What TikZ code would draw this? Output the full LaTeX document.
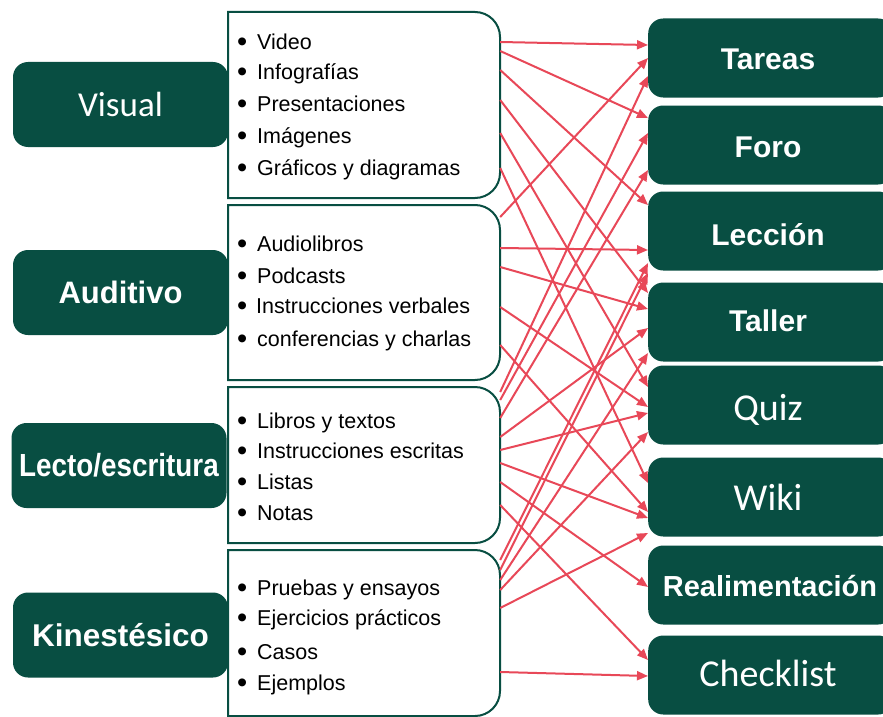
\documentclass[tikz,border=0pt]{standalone}
\usepackage{fontspec}
\usepackage{graphicx}
\setmainfont{Liberation Sans}
\newfontfamily\calfont{Carlito}
\usetikzlibrary{arrows.meta}
\definecolor{dg}{RGB}{8,78,66}
\definecolor{ar}{RGB}{232,72,88}
\newcommand\listframe[2]{\draw[frame] (228,#1) -- (475,#1) arc[start angle=-90,end angle=0,radius=25] -- (500,#2-25) arc[start angle=0,end angle=90,radius=25] -- (228,#2) -- cycle;}
\begin{document}
\begin{tikzpicture}[x=1pt,y=-1pt,
  item/.style={anchor=base west, inner sep=0pt, font=\fontsize{21.5}{26}\selectfont},
  lbox/.style={fill=dg, rounded corners=15pt, text=white, minimum width=215pt, minimum height=85pt, inner sep=0pt},
  rbox/.style={fill=dg, rounded corners=15pt, text=white, minimum width=245pt, minimum height=79pt, inner sep=0pt, anchor=west},
  rtxt/.style={anchor=center, text=white, inner sep=0pt},
  arr/.style={draw=ar, line width=2pt, -{Triangle[length=11pt,width=9pt]}},
  frame/.style={draw=dg, line width=2pt, fill=white},
  ghost/.style={inner sep=0pt, minimum width=272pt}]
\fill[white] (0,0) rectangle (883,717);
\useasboundingbox (0,0) rectangle (883,717);

% list frames
\listframe{12}{198}
\listframe{205}{380}
\listframe{387}{543}
\listframe{550}{716}
\node[ghost, minimum height=186pt] (L1) at (364,105) {};
\node[ghost, minimum height=175pt] (L2) at (364,292.5) {};
\node[ghost, minimum height=156pt] (L3) at (364,465) {};
\node[ghost, minimum height=166pt] (L4) at (364,633) {};

% items
\newcommand\bulglyph{\raisebox{-2.6pt}{\scalebox{1.35}{\textbullet}}}
\newcommand\bul{\makebox[20pt][l]{\bulglyph}}
\node[item] (v1) at (237,49) {\bul Video};
\node[item] (v2) at (237,79) {\bul Infografías};
\node[item] (v3) at (237,111) {\bul Presentaciones};
\node[item] (v4) at (237,143) {\bul Imágenes};
\node[item] (v5) at (237,175) {\bul Gráficos y diagramas};
\node[item] (a1) at (237,251) {\bul Audiolibros};
\node[item] (a2) at (237,283) {\bul Podcasts};
\node[item] (a3) at (237,313) {\makebox[19pt][l]{\bulglyph}Instrucciones verbales};
\node[item] (a4) at (237,346) {\bul conferencias y charlas};
\node[item] (r1) at (237,428) {\bul Libros y textos};
\node[item] (r2) at (237,458) {\bul Instrucciones escritas};
\node[item] (r3) at (237,489) {\bul Listas};
\node[item] (r4) at (237,520) {\bul Notas};
\node[item] (k1) at (237,595) {\bul Pruebas y ensayos};
\node[item] (k2) at (237,625) {\bul Ejercicios prácticos};
\node[item] (k3) at (237,659) {\bul Casos};
\node[item] (k4) at (237,690) {\bul Ejemplos};

% left boxes
\node[lbox] (vis) at (120.5,104.5) {\calfont\fontsize{35}{40}\selectfont Visual};
\node[lbox] (aud) at (120.5,292.5) {\bfseries\fontsize{31}{36}\selectfont Auditivo};
\node[lbox] (lec) at (119,465.5) {\scalebox{0.87}[1]{\bfseries\fontsize{32}{36}\selectfont Lecto/escritura}};
\node[lbox] (kin) at (120.5,635) {\bfseries\fontsize{31.5}{36}\selectfont Kinestésico};

% right boxes
\node[rbox] (tar) at (648,58) {};
\node[rbox] (for) at (648,145) {};
\node[rbox] (lcc) at (648,231) {};
\node[rbox] (tal) at (648,322) {};
\node[rbox] (qui) at (648,405) {};
\node[rbox] (wik) at (648,497) {};
\node[rbox] (rea) at (648,585) {};
\node[rbox] (che) at (648,675) {};
\node[rtxt] at (768,59) {\bfseries\fontsize{30}{34}\selectfont Tareas};
\node[rtxt] at (768,147) {\bfseries\fontsize{30}{34}\selectfont Foro};
\node[rtxt] at (768,235) {\bfseries\fontsize{30}{34}\selectfont Lección};
\node[rtxt] at (768,321) {\bfseries\fontsize{30}{34}\selectfont Taller};
\node[rtxt] at (768,410) {\calfont\fontsize{38}{42}\selectfont Quiz};
\node[rtxt] at (768,497) {\calfont\fontsize{38}{42}\selectfont Wiki};
\node[rtxt] at (770,586) {\bfseries\fontsize{29}{34}\selectfont Realimentación};
\node[rtxt] at (768,673) {\calfont\fontsize{38}{42}\selectfont Checklist};

% connectors
\foreach \s/\a/\b/\t in {L1/42/45/tar, L1/51/118/for, L1/70/205/lcc, L1/100/293/tal, L1/133/387/qui, L1/168/483/wik,
  L2/217/58/tar, L2/248/250/lcc, L2/267/309/tal, L2/307/407/qui, L2/345/512/wik,
  L3/392/76/tar, L3/400/133/for, L3/418/170/for, L3/437/328/tal, L3/450/413/qui, L3/463/518/wik, L3/482/587/rea, L3/505/660/che,
  L4/560/263/lcc, L4/570/273/lcc, L4/580/353/tal, L4/590/432/qui, L4/608/533/wik, L4/672/676/che}
  \draw[arr] (\s.east |- 0,\a) -- (\t.west |- 0,\b);
\end{tikzpicture}
\end{document}
